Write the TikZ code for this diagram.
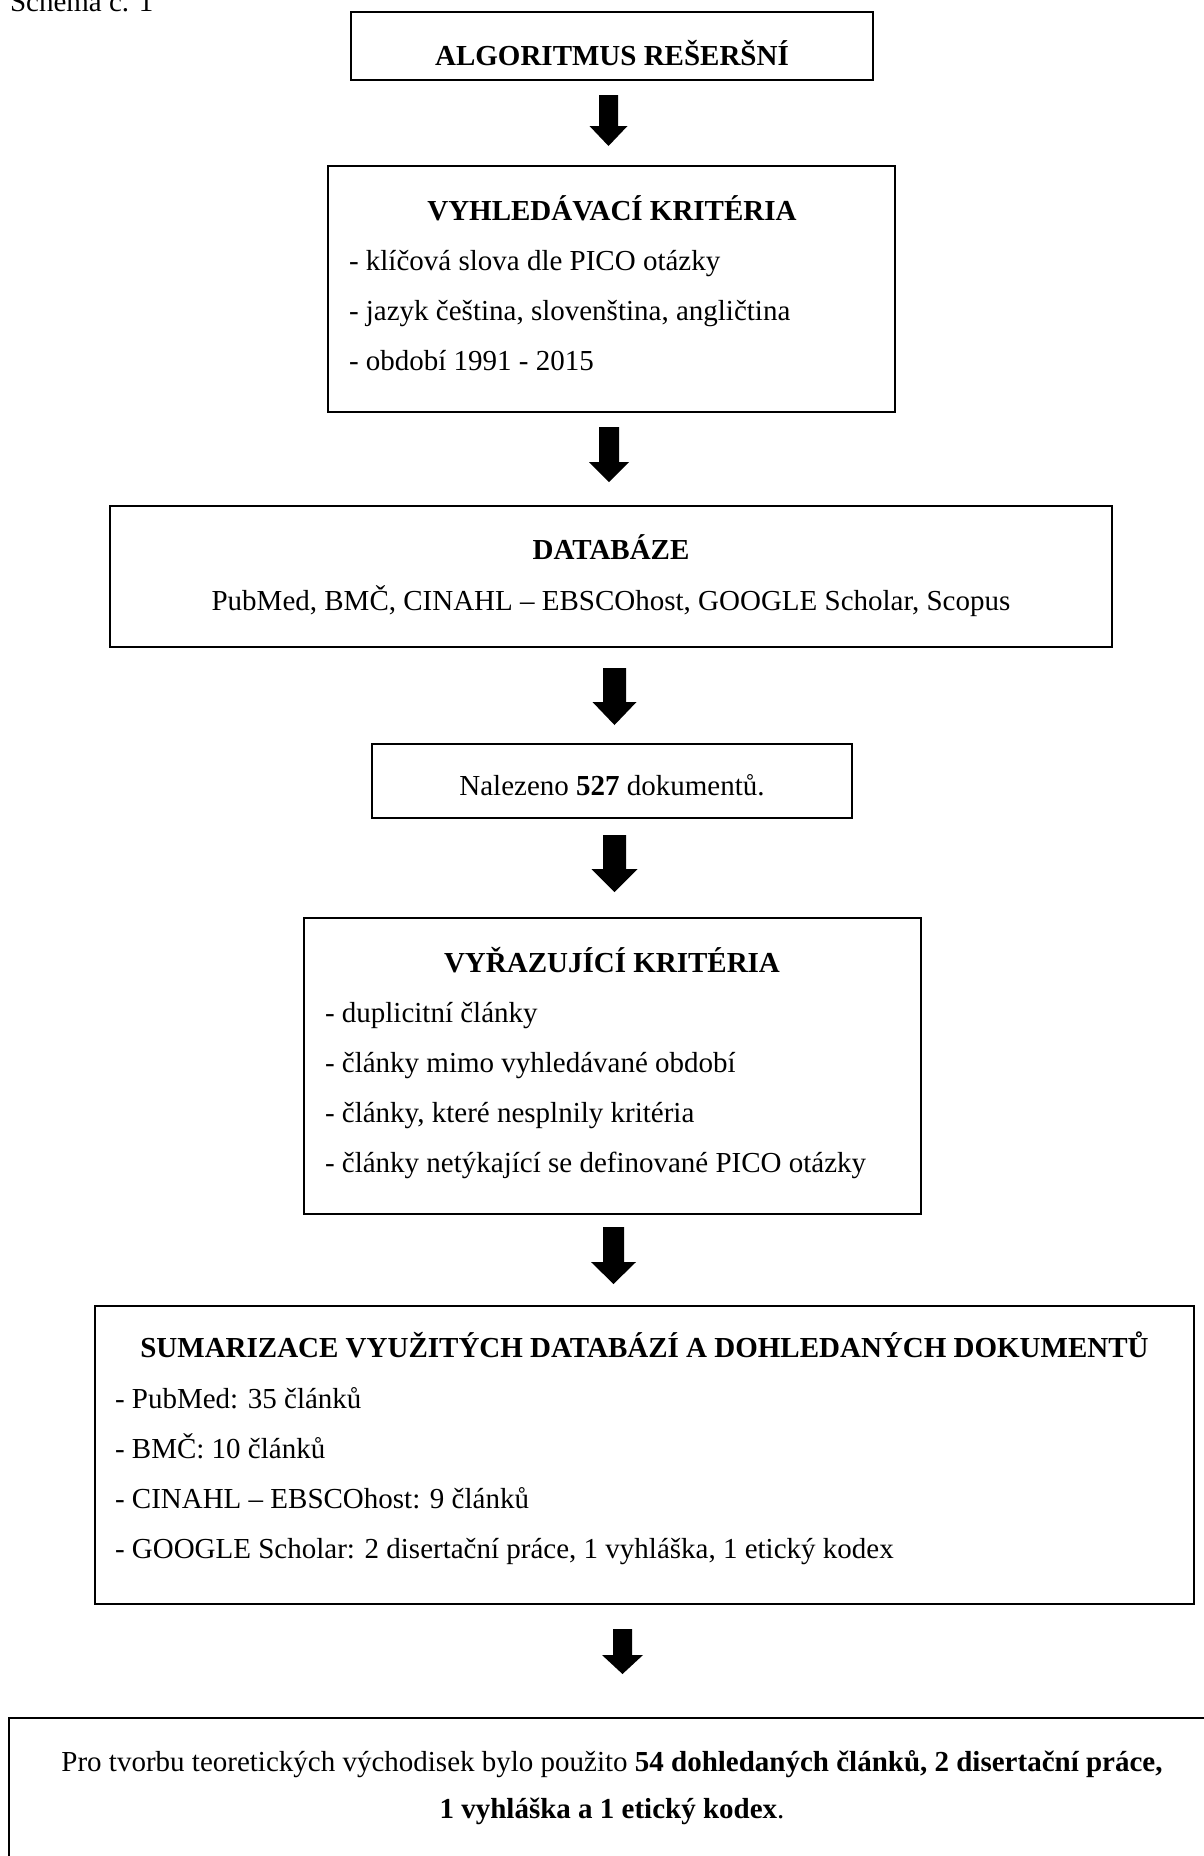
\documentclass[tikz,border=0pt]{standalone}
\usepackage{fontspec}
\setmainfont{Liberation Serif}
\usetikzlibrary{calc}
\newcommand\blkarr[5]{%
  \fill let \p1=(#1), \p2=(#2) in
    (\x1-#3pt,\y1) -- (\x1+#3pt,\y1) -- (\x1+#3pt,\y2+#5pt) -- (\x1+#4pt,\y2+#5pt)
    -- (\x1,\y2) -- (\x1-#4pt,\y2+#5pt) -- (\x1-#3pt,\y2+#5pt) -- cycle;}
\begin{document}
\begin{tikzpicture}[x=1pt,y=-1pt,
  box/.style={draw, line width=1.6pt, anchor=north west, inner sep=0pt, outer sep=0pt},
  txt/.style={inner sep=0pt, outer sep=0pt, font=\fontsize{29}{35}\selectfont},
  ttl/.style={txt, anchor=base, font=\fontsize{29}{35}\selectfont\bfseries},
  ctr/.style={txt, anchor=base},
  lft/.style={txt, anchor=base west}]
\useasboundingbox (0,0) rectangle (1203,1856);

\node[lft] (cap) at (10,11) {Schéma č. 1};

% boxes
\node[box, minimum width=522pt, minimum height=68pt] (b1) at (351,12) {};
\node[box, minimum width=567pt, minimum height=246pt] (b2) at (328,166) {};
\node[box, minimum width=1002pt, minimum height=141pt] (b3) at (110,506) {};
\node[box, minimum width=480pt, minimum height=74pt] (b4) at (372,744) {};
\node[box, minimum width=617pt, minimum height=296pt] (b5) at (304,918) {};
\node[box, minimum width=1099pt, minimum height=298pt] (b6) at (95,1306) {};
\node[box, minimum width=1206pt, minimum height=170pt] (b7) at (9,1718) {};

% texts
\node[ttl] (t1) at (612,65) {ALGORITMUS REŠERŠNÍ};

\node[ttl] (t2) at (612,220) {VYHLEDÁVACÍ KRITÉRIA};
\node[lft] (t2a) at (349,270) {- klíčová slova dle PICO otázky};
\node[lft] (t2b) at (349,320) {- jazyk čeština, slovenština, angličtina};
\node[lft] (t2c) at (349,370) {- období 1991 - 2015};

\node[ttl] (t3) at (611,559) {DATABÁZE};
\node[ctr] (t3a) at (611,610) {PubMed, BMČ, CINAHL – EBSCOhost, GOOGLE Scholar, Scopus};

\node[ctr] (t4) at (612,795) {Nalezeno \textbf{527} dokumentů.};

\node[ttl] (t5) at (612,972) {VYŘAZUJÍCÍ KRITÉRIA};
\node[lft] (t5a) at (325,1022) {- duplicitní články};
\node[lft] (t5b) at (325,1072) {- články mimo vyhledávané období};
\node[lft] (t5c) at (325,1122) {- články, které nesplnily kritéria};
\node[lft] (t5d) at (325,1172) {- články netýkající se definované PICO otázky};

\node[ttl] (t6) at (644.5,1357) {SUMARIZACE VYUŽITÝCH DATABÁZÍ A DOHLEDANÝCH DOKUMENTŮ};
\node[lft] (t6a) at (115,1408) {- PubMed: 35 článků};
\node[lft] (t6b) at (115,1458) {- BMČ: 10 článků};
\node[lft] (t6c) at (115,1508) {- CINAHL – EBSCOhost: 9 článků};
\node[lft] (t6d) at (115,1558) {- GOOGLE Scholar: 2 disertační práce, 1 vyhláška, 1 etický kodex};

\node[ctr] (t7a) at (612,1771) {Pro tvorbu teoretických východisek bylo použito \textbf{54 dohledaných článků, 2 disertační práce,}};
\node[ctr] (t7b) at (612,1818) {\textbf{1 vyhláška a 1 etický kodex}.};

% arrows
\coordinate (a1s) at (608.5,95);  \coordinate (a1e) at (608.5,146);
\coordinate (a2s) at (609,427);   \coordinate (a2e) at (609,482);
\coordinate (a3s) at (614.5,668); \coordinate (a3e) at (614.5,725);
\coordinate (a4s) at (614.5,835); \coordinate (a4e) at (614.5,892);
\coordinate (a5s) at (613.5,1227);\coordinate (a5e) at (613.5,1284);
\coordinate (a6s) at (622.5,1629);\coordinate (a6e) at (622.5,1674);
\blkarr{a1s}{a1e}{9.5}{19}{20}
\blkarr{a2s}{a2e}{10}{20}{20}
\blkarr{a3s}{a3e}{11.5}{22}{23}
\blkarr{a4s}{a4e}{11.5}{23}{23}
\blkarr{a5s}{a5e}{10.5}{22.5}{22}
\blkarr{a6s}{a6e}{9.5}{20.5}{19}
\end{tikzpicture}
\end{document}
